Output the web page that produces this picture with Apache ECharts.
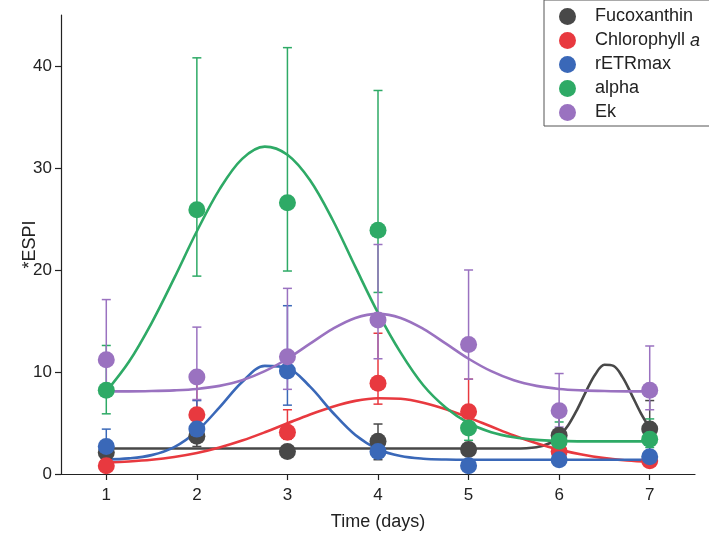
<!DOCTYPE html>
<html><head><meta charset="utf-8">
<script src="https://cdn.jsdelivr.net/npm/echarts@6/dist/echarts.min.js"></script>
<style>html,body{margin:0;padding:0;background:#fff}#c{width:709px;height:538px}</style>
</head><body><div id="c"></div>
<script>
// ---------- data ----------
const days = [1, 2, 3, 4, 5, 6, 7];
const xTicks = [1, 2, 3, 4, 5, 6, 7];
const yTicks = [0, 10, 20, 30, 40];
const seriesNames = ['Fucoxanthin', 'Chlorophyll a', 'rETRmax', 'alpha', 'Ek'];

const fucoMean = [2.1, 3.7, 2.2, 3.2, 2.4, 3.8, 4.4];
const fucoLow  = [1.8, 2.7, 1.9, 1.4, 1.9, 1.4, 1.7];
const fucoHigh = [2.5, 4.6, 2.5, 4.9, 2.9, 6.2, 7.2];

const chlMean = [0.8, 5.8, 4.1, 8.9, 6.1, 2.2, 1.3];
const chlLow  = [0.5, 4.3, 3.4, 6.85, 4.7, 1.5, 0.9];
const chlHigh = [1.1, 9.1, 6.3, 13.8, 9.3, 2.9, 1.7];

const etrMean = [2.7, 4.4, 10.1, 2.2, 0.8, 1.4, 1.7];
const etrLow  = [2.0, 3.2, 6.75, 1.6, 0.3, 1.1, 1.3];
const etrHigh = [4.4, 7.2, 16.5, 2.8, 1.3, 1.7, 2.1];

const alphaMean = [8.2, 25.9, 26.6, 23.9, 4.5, 3.2, 3.4];
const alphaLow  = [5.9, 19.4, 19.9, 17.8, 3.3, 2.4, 2.6];
const alphaHigh = [12.6, 40.8, 41.8, 37.6, 6.6, 5.1, 5.4];

const ekMean = [11.2, 9.5, 11.5, 15.1, 12.7, 6.2, 8.2];
const ekLow  = [8.6, 7.3, 8.3, 11.3, 9.3, 4.6, 6.3];
const ekHigh = [17.1, 14.4, 18.2, 22.5, 20.0, 9.85, 12.55];

// fitted curves
const curveX = [1, 1.25, 1.5, 1.75, 2, 2.25, 2.5, 2.75, 3, 3.25, 3.5, 3.75, 4, 4.25, 4.5, 4.75, 5, 5.25, 5.5, 5.75, 6, 6.25, 6.5, 6.75, 7];
const fucoCurveX = [1, 2, 3, 4, 5, 5.25, 5.5, 5.75, 5.9, 6, 6.1, 6.2, 6.3, 6.4, 6.5, 6.6, 6.7, 6.8, 6.9, 7];
const fucoCurveY = [2.5, 2.5, 2.5, 2.5, 2.5, 2.5, 2.5, 2.63, 3.04, 3.69, 4.78, 6.34, 8.15, 9.78, 10.71, 10.6, 9.5, 7.79, 6.0, 4.5];
const chlCurveY = [1.12, 1.23, 1.40, 1.67, 2.06, 2.6, 3.28, 4.09, 4.97, 5.84, 6.6, 7.17, 7.43, 7.37, 6.99, 6.35, 5.53, 4.65, 3.78, 3.02, 2.39, 1.91, 1.56, 1.33, 1.19];
const etrCurveY = [1.43, 1.53, 1.85, 2.64, 4.2, 6.53, 9.02, 10.6, 10.4, 8.56, 6.03, 3.82, 2.43, 1.76, 1.5, 1.42, 1.4, 1.4, 1.4, 1.4, 1.4, 1.4, 1.4, 1.4, 1.4];
const alphaCurveY = [8.1, 11.0, 14.8, 19.2, 23.8, 27.9, 30.9, 32.1, 31.3, 28.8, 24.9, 20.3, 15.8, 11.9, 8.7, 6.5, 5.0, 4.1, 3.6, 3.35, 3.25, 3.2, 3.2, 3.2, 3.2];
const ekCurveY = [8.1, 8.1, 8.13, 8.2, 8.34, 8.64, 9.19, 10.08, 11.3, 12.78, 14.23, 15.3, 15.7, 15.3, 14.23, 12.78, 11.3, 10.08, 9.19, 8.64, 8.34, 8.2, 8.13, 8.1, 8.1];

const colors = ['#484848', '#e8393f', '#3a68b8', '#2eaa66', '#9a72c0'];

// ---------- build ----------
const groups = [
  {mean: fucoMean, low: fucoLow, high: fucoHigh, cx: fucoCurveX, cy: fucoCurveY},
  {mean: chlMean, low: chlLow, high: chlHigh, cx: curveX, cy: chlCurveY},
  {mean: etrMean, low: etrLow, high: etrHigh, cx: curveX, cy: etrCurveY},
  {mean: alphaMean, low: alphaLow, high: alphaHigh, cx: curveX, cy: alphaCurveY},
  {mean: ekMean, low: ekLow, high: ekHigh, cx: curveX, cy: ekCurveY}
];

const series = [];
groups.forEach((g, i) => {
  const col = colors[i];
  series.push({
    type: 'custom', name: 'err-' + i, z: 1, silent: true,
    data: days.map((d, k) => [d, g.low[k], g.high[k]]),
    encode: {x: 0, y: [1, 2]},
    renderItem: (params, api) => {
      const x = api.value(0);
      const lo = api.coord([x, api.value(1)]);
      const hi = api.coord([x, api.value(2)]);
      const w = 4.5;
      const st = {stroke: col, lineWidth: 1.5};
      return {type: 'group', children: [
        {type: 'line', shape: {x1: lo[0], y1: lo[1], x2: hi[0], y2: hi[1]}, style: st},
        {type: 'line', shape: {x1: hi[0] - w, y1: hi[1], x2: hi[0] + w, y2: hi[1]}, style: st},
        {type: 'line', shape: {x1: lo[0] - w, y1: lo[1], x2: lo[0] + w, y2: lo[1]}, style: st}
      ]};
    }
  });
  series.push({
    type: 'line', name: 'fit-' + i, z: 2, silent: true,
    data: g.cx.map((x, k) => [x, g.cy[k]]),
    smooth: 0.35, showSymbol: false, symbol: 'none',
    lineStyle: {color: col, width: 2.6}
  });
});
groups.forEach((g, i) => {
  series.push({
    type: 'scatter', name: seriesNames[i], z: 3,
    data: days.map((d, k) => [d, g.mean[k]]),
    symbol: 'circle', symbolSize: 17,
    itemStyle: {color: colors[i], opacity: 1}
  });
});

const FONT = '"Liberation Sans", Arial, sans-serif';
const chart = echarts.init(document.getElementById('c'), null, {renderer: 'canvas'});
chart.setOption({
  animation: false,
  backgroundColor: '#ffffff',
  color: colors,
  grid: {left: 61, right: 14, top: 15, bottom: 64, containLabel: false},
  xAxis: {
    type: 'value', min: 0.5, max: 7.5,
    name: 'Time (days)', nameLocation: 'middle', nameGap: 39, nameMoveOverlap: false,
    nameTextStyle: {fontSize: 18, fontFamily: FONT, color: '#222'},
    axisLine: {lineStyle: {color: '#222', width: 1.2}},
    axisTick: {show: true, inside: false, length: 6, customValues: xTicks, lineStyle: {color: '#222', width: 1.2}},
    axisLabel: {customValues: xTicks, fontSize: 17, fontFamily: FONT, color: '#222', margin: 13},
    splitLine: {show: false}
  },
  yAxis: {
    type: 'value', min: 0, max: 45,
    name: '*ESPI', nameLocation: 'middle', nameGap: 22, nameRotate: 90, nameMoveOverlap: false,
    nameTextStyle: {fontSize: 18, fontFamily: FONT, color: '#222'},
    axisLine: {show: true, lineStyle: {color: '#222', width: 1.2}},
    axisTick: {show: true, inside: false, length: 6, customValues: yTicks, lineStyle: {color: '#222', width: 1.2}},
    axisLabel: {customValues: yTicks, fontSize: 17, fontFamily: FONT, color: '#222', margin: 9},
    splitLine: {show: false}
  },
  legend: {
    data: seriesNames,
    orient: 'vertical', left: 544, top: 0,
    padding: [6, 30, 3, 15],
    itemWidth: 17, itemHeight: 17, itemGap: 3,
    icon: 'circle',
    borderColor: '#555', borderWidth: 1, backgroundColor: '#fff',
    textStyle: {fontSize: 18, lineHeight: 21, fontFamily: FONT, color: '#222', padding: [0, 0, 0, 14],
      rich: {
        n: {fontSize: 18, lineHeight: 21, fontFamily: FONT, color: '#222', verticalAlign: 'middle'},
        i: {fontSize: 18, lineHeight: 21, fontFamily: FONT, color: '#222', fontStyle: 'italic', verticalAlign: 'middle'}
      }},
    formatter: name => name === 'Chlorophyll a' ? '{n|Chlorophyll }{i|a}' : name
  },
  series: series
});
</script>
</body></html>
